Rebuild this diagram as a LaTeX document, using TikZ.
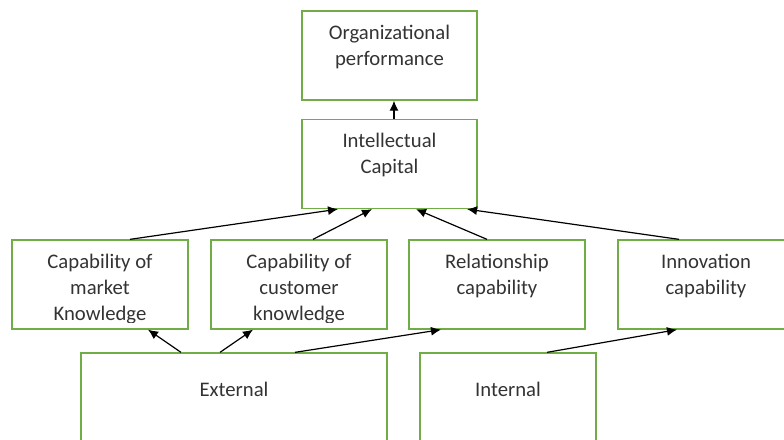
\documentclass[tikz,border=0pt]{standalone}
\usepackage{fontspec}
\setmainfont{Carlito}
\usetikzlibrary{arrows.meta}
\definecolor{boxgreen}{RGB}{112,173,71}
\tikzset{
  box/.style={draw=boxgreen, line width=0.65pt, minimum width=#1, minimum height=44.5pt, inner sep=0pt},
  box/.default=88pt,
  lbl/.style={align=center, anchor=base, inner sep=0pt, text=black!80, font={\fontsize{10.35}{13}\selectfont}},
  link/.style={-{Latex[length=5pt,width=4.5pt]}, line width=0.6pt}
}
\begin{document}
\begin{tikzpicture}[x=0.5pt,y=-0.5pt]
			\useasboundingbox (0,0) rectangle (784,440);
			\node[box=87.5pt] (perf) at (389.5,55.5) {};
			\node[box=87.5pt] (ic) at (389.5,164) {};
			\node[box] (mkt) at (100,284.5) {};
			\node[box] (cus) at (299,284.5) {};
			\node[box] (rel) at (497,284.5) {};
			\node[box] (inn) at (706,284.5) {};
			\node[box=153pt] (ext) at (234,397.5) {};
			\node[box] (int) at (508,397.5) {};
			% base anchor sits on the last line
			\node[lbl] (perftxt) at ([yshift=-27.5pt]perf.north) {Organizational\\performance};
			\node[lbl] (ictxt) at ([yshift=-27.5pt]ic.north) {Intellectual\\Capital};
			\begin{scope}
			\clip ([yshift=3.5pt]mkt.south west) rectangle (cus.north east);
			\node[lbl] (mkttxt) at ([yshift=-40.5pt]mkt.north) {Capability of\\market\\Knowledge};
			\node[lbl] (custxt) at ([yshift=-40.5pt]cus.north) {Capability of\\customer\\knowledge};
			\end{scope}
			\node[lbl] (reltxt) at ([yshift=-27.5pt]rel.north) {Relationship\\capability};
			\node[lbl] (inntxt) at ([yshift=-27.5pt]inn.north) {Innovation\\capability};
			\node[lbl] (exttxt) at ([yshift=-22pt]ext.north) {External};
			\node[lbl] (inttxt) at ([yshift=-22pt]int.north) {Internal};
			\draw[link] ([xshift=2.25pt]ic.north) -- ([xshift=2.25pt]perf.south);
			\draw[link] ([xshift=15pt]mkt.north) -- ([xshift=-25.75pt]ic.south);
			\draw[link] ([xshift=7pt]cus.north) -- ([xshift=-8.75pt]ic.south);
			\draw[link] ([xshift=-5pt]rel.north) -- ([xshift=13.25pt]ic.south);
			\draw[link] ([xshift=-13.5pt]inn.north) -- ([xshift=38.75pt]ic.south);
			\draw[link] ([xshift=-26.5pt]ext.north) -- ([xshift=24pt]mkt.south);
			\draw[link] ([xshift=-7pt]ext.north) -- ([xshift=-23pt]cus.south);
			\draw[link] ([xshift=30.5pt]ext.north) -- ([xshift=-28pt]rel.south);
			\draw[link] ([xshift=19.5pt]int.north) -- ([xshift=-14.5pt]inn.south);
\end{tikzpicture}
\end{document}
